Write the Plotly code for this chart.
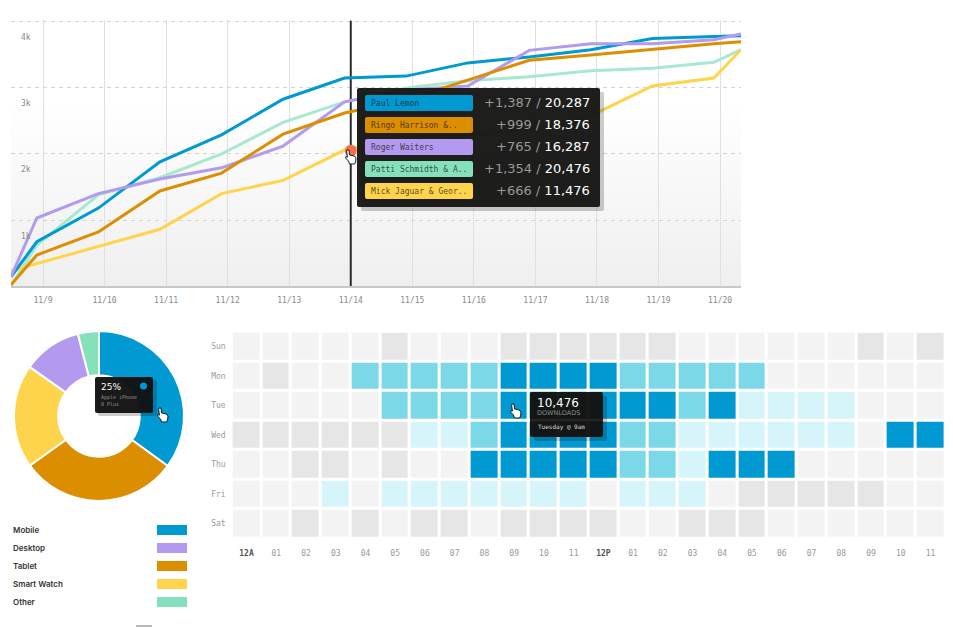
import base64
import plotly.graph_objects as go

W, H = 953, 627

# ---- line chart data ----
days = [8.48, 8.9, 9.9, 10.9, 11.9, 12.9, 13.9, 14.9, 15.9, 16.9, 17.9, 18.9, 19.9, 20.34]
paul = [0.14, 0.67, 1.18, 1.88, 2.29, 2.83, 3.15, 3.18, 3.38, 3.47, 3.58, 3.75, 3.78, 3.79]
roger = [0.14, 1.03, 1.40, 1.62, 1.79, 2.12, 2.79, 2.97, 3.03, 3.57, 3.67, 3.67, 3.73, 3.82]
ringo = [0.02, 0.47, 0.82, 1.44, 1.71, 2.30, 2.62, 2.82, 3.12, 3.42, 3.50, 3.59, 3.67, 3.70]
patti = [0.00, 0.62, 1.38, 1.64, 2.00, 2.48, 2.79, 3.00, 3.11, 3.17, 3.26, 3.30, 3.39, 3.58]
mick = [0.23, 0.34, 0.60, 0.86, 1.40, 1.60, 2.06, 2.26, 2.29, 2.35, 2.58, 3.03, 3.15, 3.58]
day_ticks = [9, 10, 11, 12, 13, 14, 15, 16, 17, 18, 19, 20]
day_labels = ["11/9", "11/10", "11/11", "11/12", "11/13", "11/14", "11/15", "11/16", "11/17", "11/18", "11/19", "11/20"]
k_ticks = [1, 2, 3, 4]
k_labels = ["1k", "2k", "3k", "4k"]
hover_day = 14
hover_value = 2.05

# tooltip of the line chart
names = ["Paul Lemon", "Ringo Harrison &..", "Roger Waiters", "Patti Schmidth & A..", "Mick Jaguar & Geor.."]
deltas = ["+1,387", "+999", "+765", "+1,354", "+666"]
totals = ["20,287", "18,376", "16,287", "20,476", "11,476"]

# ---- donut data ----
slices = ["Mobile", "Tablet", "Smart Watch", "Desktop", "Other"]
shares = [35.0, 30.1, 19.7, 11.2, 4.0]
legend_names = ["Mobile", "Desktop", "Tablet", "Smart Watch", "Other"]

# ---- heatmap data (0 = empty ... 4 = most downloads) ----
week = ["Sun", "Mon", "Tue", "Wed", "Thu", "Fri", "Sat"]
hours = ["12A", "01", "02", "03", "04", "05", "06", "07", "08", "09", "10", "11",
         "12P", "01", "02", "03", "04", "05", "06", "07", "08", "09", "10", "11"]
sun = [0, 0, 0, 0, 0, 1, 0, 0, 0, 1, 1, 1, 1, 1, 1, 0, 0, 0, 0, 0, 0, 1, 0, 1]
mon = [0, 1, 0, 0, 3, 3, 3, 3, 3, 4, 4, 4, 4, 3, 3, 3, 3, 3, 0, 0, 0, 0, 0, 0]
tue = [0, 0, 0, 0, 0, 3, 3, 3, 3, 4, 4, 4, 4, 4, 4, 3, 4, 2, 2, 2, 2, 0, 0, 0]
wed = [1, 1, 1, 1, 1, 1, 2, 2, 3, 4, 4, 4, 4, 3, 3, 2, 2, 2, 2, 2, 2, 0, 4, 4]
thu = [0, 0, 1, 1, 0, 1, 0, 0, 4, 4, 4, 4, 4, 3, 3, 2, 4, 4, 4, 0, 0, 0, 0, 0]
fri = [0, 0, 0, 2, 0, 2, 2, 2, 2, 2, 2, 2, 0, 2, 2, 2, 0, 1, 1, 1, 1, 1, 0, 0]
sat = [0, 0, 1, 0, 1, 0, 1, 1, 0, 1, 1, 1, 1, 0, 0, 1, 1, 1, 0, 0, 0, 0, 0, 0]

BLUE = "#0099d1"
ORANGE = "#db8e00"
PURPLE = "#b39aee"
GREEN = "#84e1bb"
YELLOW = "#ffd44d"
MONO = "DejaVu Sans Mono"
WIDE = "DejaVu Sans"


def px(x):
    return x / W


def py(y):
    return 1 - y / H


def rect(x0, y0, x1, y1, color):
    return dict(type="rect", xref="paper", yref="paper", layer="above",
                x0=px(x0), x1=px(x1), y0=py(y0), y1=py(y1),
                fillcolor=color, line_width=0)


def rounded(x0, y0, x1, y1, color, r=2):
    p = lambda x, y: f"{px(x):.5f},{py(y):.5f}"
    path = (f"M{p(x0 + r, y0)}L{p(x1 - r, y0)}Q{p(x1, y0)} {p(x1, y0 + r)}"
            f"L{p(x1, y1 - r)}Q{p(x1, y1)} {p(x1 - r, y1)}"
            f"L{p(x0 + r, y1)}Q{p(x0, y1)} {p(x0, y1 - r)}"
            f"L{p(x0, y0 + r)}Q{p(x0, y0)} {p(x0 + r, y0)}Z")
    return dict(type="path", xref="paper", yref="paper", layer="above", path=path,
                fillcolor=color, line_width=0)


def label(x, y, text, size=8, color="#888888", family=MONO, anchor="left", weight=None):
    font = dict(family=family, size=size, color=color)
    if weight:
        font["weight"] = weight
    return dict(xref="paper", yref="paper", x=px(x), y=py(y), text=text, showarrow=False,
                xanchor=anchor, yanchor="middle", borderpad=0, font=font)


def hand(x, y):
    # little pointer cursor, x/y = tip of the finger
    pts = [(0, 0), (2, 0), (2.6, 5), (5, 5.4), (8, 6.4), (9, 8), (8.6, 12), (7.5, 14),
           (2.5, 14), (1.5, 11), (-1.5, 8), (-1, 6.5), (0.4, 7.2), (-0.4, 1)]
    path = "M" + "L".join(f"{px(x + a):.5f},{py(y + b):.5f}" for a, b in pts) + "Z"
    return dict(type="path", xref="paper", yref="paper", layer="above", path=path,
                fillcolor="#ffffff", line=dict(color="#1a1a1a", width=1))


# gradient behind the line chart, as an image so the gridlines stay on top
gradient_svg = ('<svg xmlns="http://www.w3.org/2000/svg" width="730" height="264">'
                '<defs><linearGradient id="g" x1="0" y1="0" x2="0" y2="1">'
                '<stop offset="0.3" stop-color="#ffffff"/><stop offset="1" stop-color="#efefef"/>'
                '</linearGradient></defs><rect width="730" height="264" fill="url(#g)"/></svg>')
gradient_src = "data:image/svg+xml;base64," + base64.b64encode(gradient_svg.encode()).decode()

fig = go.Figure()

line_series = [("Patti", patti, "#a8e9cd"), ("Mick", mick, YELLOW), ("Paul", paul, BLUE),
               ("Roger", roger, PURPLE), ("Ringo", ringo, ORANGE)]
for name, values, color in line_series:
    fig.add_trace(go.Scatter(x=days, y=values, name=name, mode="lines", showlegend=False,
                             line=dict(color=color, width=3)))

fig.add_trace(go.Scatter(x=[hover_day], y=[hover_value], mode="markers", showlegend=False,
                         marker=dict(color="#f4704a", size=12)))

fig.add_trace(go.Pie(
    labels=slices, values=shares, hole=0.48, sort=False, direction="clockwise", rotation=0,
    domain=dict(x=[px(14), px(184)], y=[py(501), py(331)]),
    marker=dict(colors=[BLUE, ORANGE, YELLOW, PURPLE, GREEN], line=dict(color="#ffffff", width=2)),
    textinfo="none", showlegend=False,
))

level_colors = ["#f3f3f3", "#e6e6e6", "#d6f5fa", "#7bd8e8", BLUE]
fig.add_trace(go.Heatmap(
    z=[sun, mon, tue, wed, thu, fri, sat], y=week, x=list(range(24)),
    xaxis="x2", yaxis="y2", xgap=3, ygap=3, zmin=0, zmax=4, showscale=False,
    colorscale=[[0, level_colors[0]], [0.125, level_colors[0]], [0.125, level_colors[1]], [0.375, level_colors[1]],
                [0.375, level_colors[2]], [0.625, level_colors[2]], [0.625, level_colors[3]], [0.875, level_colors[3]],
                [0.875, level_colors[4]], [1, level_colors[4]]],
))

hour_text = [f'<span style="color:#555555"><b>{h}</b></span>' if h in ("12A", "12P") else h for h in hours]

fig.update_layout(
    width=W, height=H, margin=dict(l=0, r=0, t=0, b=0), autosize=False,
    paper_bgcolor="#ffffff", plot_bgcolor="rgba(0,0,0,0)",
    images=[dict(source=gradient_src, xref="paper", yref="paper", x=px(11), y=py(22),
                 sizex=730 / W, sizey=264 / H, sizing="stretch", xanchor="left", yanchor="top", layer="below")],
    xaxis=dict(domain=[px(11), px(741)], range=[days[0], days[-1]], tickvals=day_ticks, ticktext=day_labels,
               showgrid=True, gridcolor="#e0e0e0", gridwidth=1, zeroline=False,
               showline=True, linecolor="#c8c8c8", linewidth=2, ticks="", ticklabelstandoff=5,
               tickfont=dict(family=MONO, size=8, color="#888888")),
    # range runs past 4k by 2px, gridlines closer than 1px to the edge get dropped
    yaxis=dict(domain=[py(286), py(20)], range=[0, 4.03], tickvals=k_ticks, showticklabels=False,
               showgrid=True, gridcolor="#d4d4d4", griddash="4px,4px", gridwidth=1, zeroline=False, ticks=""),
    xaxis2=dict(domain=[px(231.6), px(945.4)], range=[-0.5, 23.5], anchor="y2", tickvals=list(range(24)),
                ticktext=hour_text, showgrid=False, zeroline=False, ticks="", ticklabelstandoff=9,
                tickfont=dict(family=MONO, size=8, color="#999999")),
    yaxis2=dict(domain=[py(538.2), py(331.7)], anchor="x2", autorange="reversed", showgrid=False, zeroline=False,
                ticks="", ticklabelstandoff=5, tickfont=dict(family=MONO, size=8, color="#999999")),
)

# y labels sit just under their gridline
for value, text in zip(k_ticks, k_labels):
    fig.add_annotation(xref="paper", yref="y", x=px(19), y=value, yshift=-16, text=text, showarrow=False,
                       xanchor="left", font=dict(family=MONO, size=8, color="#888888"))

shapes = [
    dict(type="line", xref="x", yref="y", x0=hover_day, x1=hover_day, y0=0, y1=4.02, layer="between",
         line=dict(color="#2b2b2b", width=2)),
    # line chart tooltip
    rounded(361, 92, 604, 211, "rgba(0,0,0,0.2)"),
    rounded(357, 88, 600, 207, "rgba(24,24,22,0.97)"),
]
notes = []
chip_colors = [BLUE, ORANGE, PURPLE, GREEN, YELLOW]
for i, (name, delta, total, color) in enumerate(zip(names, deltas, totals, chip_colors)):
    top = 95 + i * 22
    shapes.append(rounded(365, top, 473, top + 16, color))
    notes.append(label(370, top + 8.5, name, size=8, color="rgba(20,20,20,0.75)"))
    notes.append(label(591, top + 7.5, f'<span style="color:#9a9a96">{delta} / </span>{total}',
                       size=13, color="#ffffff", family=WIDE, anchor="right"))

# donut tooltip
shapes += [rounded(98, 380, 157, 416, "rgba(0,0,0,0.2)"), rounded(95, 377, 153, 413, "rgba(18,18,18,0.96)")]
shapes.append(dict(type="circle", xref="paper", yref="paper", layer="above", x0=px(140), x1=px(147),
                   y0=py(389.5), y1=py(382.5), fillcolor=BLUE, line_width=0))
notes += [label(100, 387, "25%", size=9, color="#ffffff", family=WIDE),
          label(100, 398, "Apple iPhone", size=5, color="#999999"),
          label(100, 404, "8 Plus", size=5, color="#999999")]

# donut legend
legend_colors = [BLUE, PURPLE, ORANGE, YELLOW, GREEN]
for i, (name, color) in enumerate(zip(legend_names, legend_colors)):
    shapes.append(rect(157, 525 + i * 18, 187, 535 + i * 18, color))
    notes.append(label(11.5, 530 + i * 18, name, size=8, color="#333333", family="Inter", weight=600))

# heatmap tooltip
shapes += [rounded(534, 396, 607, 441, "rgba(0,0,0,0.2)"), rounded(530, 392, 603, 437, "rgba(20,18,16,0.96)"),
           dict(type="line", xref="paper", yref="paper", layer="above", x0=px(530), x1=px(603),
                y0=py(420), y1=py(420), line=dict(color="#333333", width=1))]
notes += [label(536, 403, "10,476", size=12, color="#ffffff", family=WIDE),
          label(536, 413, "DOWNLOADS", size=6.5, color="#8a8a86", family=WIDE),
          label(537, 427, "Tuesday @ 9am", size=6, color="#d8d8d8")]

# cursors and the stray mark at the bottom edge
shapes += [hand(347, 150), hand(159, 408), hand(512, 404),
           dict(type="line", xref="paper", yref="paper", layer="above", x0=px(136), x1=px(152),
                y0=py(626), y1=py(626), line=dict(color="#777777", width=1))]

for note in notes:
    fig.add_annotation(note)
fig.update_layout(shapes=shapes)

fig.write_html("out.html", config=dict(displayModeBar=False),
               post_script="document.body.style.margin='0';")
